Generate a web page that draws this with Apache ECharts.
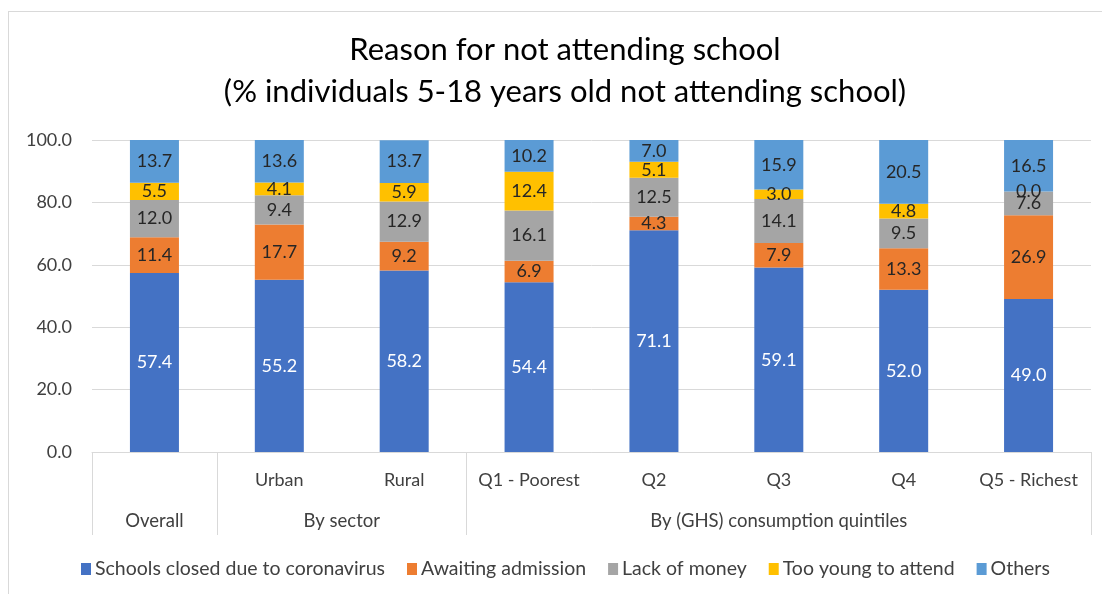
<!DOCTYPE html>
<html><head><meta charset="utf-8">
<script src="https://cdn.jsdelivr.net/npm/echarts@6/dist/echarts.min.js"></script>
<style>
html,body{margin:0;padding:0;background:#fff;}
#frame{position:absolute;left:8px;top:11px;width:1200px;height:700px;border-left:1px solid #d9d9d9;border-top:1px solid #d9d9d9;}
#chart{position:absolute;left:0;top:0;width:1102px;height:594px;}
</style>
</head><body>
<div id="frame"></div>
<div id="chart"></div>
<script>
const categories = ['', 'Urban', 'Rural', 'Q1 - Poorest', 'Q2', 'Q3', 'Q4', 'Q5 - Richest'];
const groupLabels = ['Overall', 'By sector', 'By (GHS) consumption quintiles'];
const yTicks = ['0.0', '20.0', '40.0', '60.0', '80.0', '100.0'];
const seriesNames = ['Schools closed due to coronavirus', 'Awaiting admission', 'Lack of money', 'Too young to attend', 'Others'];
const schoolsClosed = [57.4, 55.2, 58.2, 54.4, 71.1, 59.1, 52.0, 49.0];
const awaitingAdmission = [11.4, 17.7, 9.2, 6.9, 4.3, 7.9, 13.3, 26.9];
const lackOfMoney = [12.0, 9.4, 12.9, 16.1, 12.5, 14.1, 9.5, 7.6];
const tooYoung = [5.5, 4.1, 5.9, 12.4, 5.1, 3.0, 4.8, 0.0];
const others = [13.7, 13.6, 13.7, 10.2, 7.0, 15.9, 20.5, 16.5];

const colors = ['#4472C4', '#ED7D31', '#A5A5A5', '#FFC000', '#5B9BD5'];
const FONT = 'Lato, "Open Sans", sans-serif';

// group axis: half-category resolution (17 points, 0..16 => 0..8 categories)
const groupAxisData = [];
for (let j = 0; j <= 16; j++) groupAxisData.push('');
groupAxisData[1] = groupLabels[0];
groupAxisData[4] = groupLabels[1];
groupAxisData[11] = groupLabels[2];
const separatorIdx = [0, 2, 6, 16];

const allData = [schoolsClosed, awaitingAdmission, lackOfMoney, tooYoung, others];

const series = allData.map((d, i) => ({
  name: seriesNames[i],
  type: 'bar',
  stack: 'total',
  barWidth: 49,
  data: d,
  itemStyle: { color: colors[i] },
  label: {
    show: true,
    position: 'inside',
    formatter: p => p.value.toFixed(1),
    color: i === 0 ? '#ffffff' : '#262626',
    fontSize: 18,
    fontFamily: FONT
  }
}));

const chart = echarts.init(document.getElementById('chart'));
chart.setOption({
  animation: false,
  color: colors,
  title: {
    text: 'Reason for not attending school\n(% individuals 5-18 years old not attending school)',
    left: 560,
    top: 24,
    textAlign: 'center',
    padding: 5,
    textStyle: { fontSize: 31, fontWeight: 'normal', color: '#000', fontFamily: FONT, lineHeight: 42, align: 'center' }
  },
  legend: {
    top: 554,
    left: 76,
    padding: 5,
    itemWidth: 10,
    itemHeight: 12,
    itemGap: 22,
    icon: 'rect',
    textStyle: { fontSize: 19.5, color: '#404040', fontFamily: FONT, padding: [0, 0, 0, -1] },
    data: seriesNames
  },
  grid: [
    { left: 92, top: 140, width: 999, height: 312 },
    { left: 92, top: 140, width: 999, height: 312 }
  ],
  xAxis: [
    {
      type: 'category',
      gridIndex: 0,
      data: categories,
      axisLine: { lineStyle: { color: '#d9d9d9', width: 1 } },
      axisTick: { show: false },
      axisLabel: { interval: 0, margin: 19, fontSize: 18, color: '#404040', fontFamily: FONT }
    },
    {
      type: 'category',
      gridIndex: 1,
      boundaryGap: false,
      data: groupAxisData,
      axisLine: { show: false },
      axisTick: {
        show: true,
        length: 83,
        interval: (idx) => separatorIdx.indexOf(idx) >= 0,
        lineStyle: { color: '#d9d9d9', width: 1 }
      },
      axisLabel: { interval: 0, margin: 60, fontSize: 18.5, color: '#404040', fontFamily: FONT }
    }
  ],
  yAxis: [
    {
      type: 'value',
      gridIndex: 0,
      min: 0,
      max: 100,
      interval: 20,
      axisLine: { show: false },
      axisTick: { show: false },
      splitLine: { lineStyle: { color: '#d9d9d9', width: 1 } },
      axisLabel: {
        margin: 20,
        fontSize: 18,
        color: '#404040',
        fontFamily: FONT,
        formatter: v => yTicks[Math.round(v / 20)]
      }
    },
    { type: 'value', gridIndex: 1, min: 0, max: 1, show: false }
  ],
  series: series
});
</script>
</body></html>
